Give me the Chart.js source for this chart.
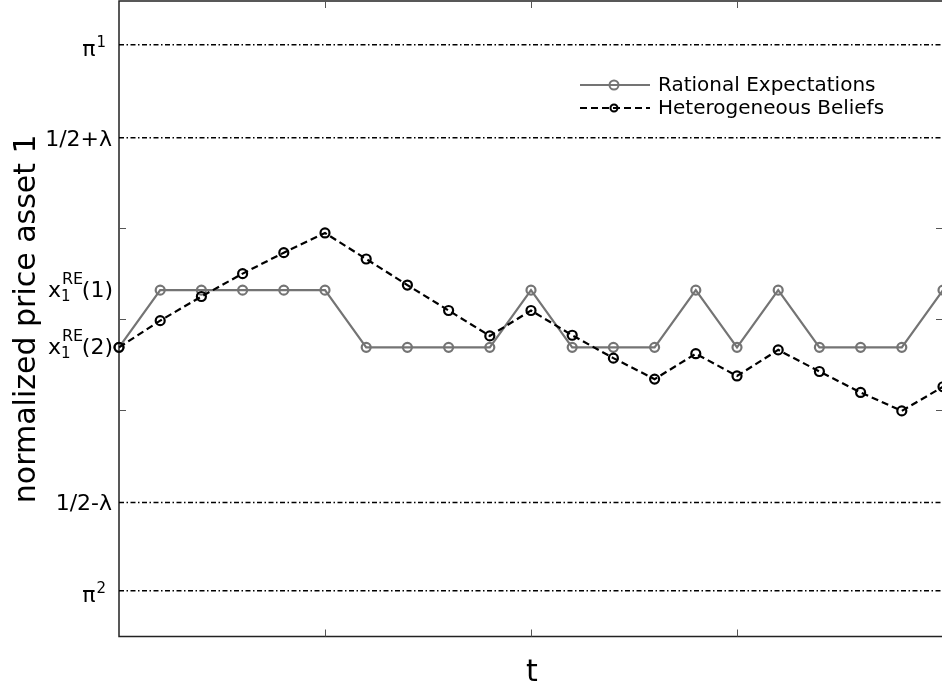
<!DOCTYPE html>
<html lang="en">
<head>
    <meta charset="UTF-8">
    <title>normalized price asset 1</title>
    <style>
    body {
        margin: 0;
        background: #fff;
        overflow: hidden;
    }
    .chart-box {
        position: relative;
        width: 946px;
        height: 692px;
    }
    </style>
</head>
<body>
    <div class="chart-box"><canvas id="priceChart"></canvas></div>

    <script src="https://cdn.jsdelivr.net/npm/chart.js"></script>
    <script>
// time steps
const periods = [0, 1, 2, 3, 4, 5, 6, 7, 8, 9, 10, 11, 12, 13, 14, 15, 16, 17, 18, 19, 20];

// normalized price of asset 1
const rationalExp = [0.455, 0.545, 0.545, 0.545, 0.545, 0.545, 0.455, 0.455, 0.455, 0.455, 0.545,
                     0.455, 0.455, 0.455, 0.545, 0.455, 0.545, 0.455, 0.455, 0.455, 0.545];
const heteroBeliefs = [0.455, 0.497, 0.535, 0.571, 0.604, 0.635, 0.594, 0.553, 0.513, 0.473, 0.513,
                       0.474, 0.438, 0.405, 0.445, 0.410, 0.451, 0.417, 0.384, 0.355, 0.393];

// dash-dot reference levels: pi1, 1/2+lambda, 1/2-lambda, pi2
const refLevels = [0.931, 0.785, 0.211, 0.072];

// labelled y ticks
const yTickValues = [0.931, 0.785, 0.545, 0.455, 0.211, 0.072];
const yTickLabels = [
    { main: 'π', sup: '1' },
    { main: '1/2+λ' },
    { main: 'x', sup: 'RE', sub: '1', tail: '(1)' },
    { main: 'x', sup: 'RE', sub: '1', tail: '(2)' },
    { main: '1/2-λ' },
    { main: 'π', sup: '2' }
];
// plain tick marks
const yMarkTicks = [0.357, 0.5, 0.643];
const xMarkTicks = [5, 10, 15];

const FONT = '"DejaVu Sans", sans-serif';
const GRAY = '#747474';

function pairs(vals) {
    return periods.map((t, i) => ({ x: t, y: vals[i] }));
}

const refSets = refLevels.map(v => ({
    data: [{ x: periods[0], y: v }, { x: periods[periods.length - 1], y: v }],
    borderColor: '#000',
    borderWidth: 1.5,
    borderDash: [5, 2.5, 1.5, 2.5],
    pointRadius: 0,
    order: 5
}));

// frame, inward ticks, tick labels, axis titles and legend
const decor = {
    id: 'decor',
    beforeDatasetsDraw(chart) {
        const { ctx, chartArea: a, scales } = chart;
        ctx.save();
        ctx.strokeStyle = '#222';
        ctx.lineWidth = 1.5;
        ctx.strokeRect(a.left, a.top, a.right - a.left, a.bottom - a.top);
        ctx.lineWidth = 1;
        ctx.strokeStyle = '#555';
        ctx.beginPath();
        yMarkTicks.forEach(v => {
            const y = Math.round(scales.y.getPixelForValue(v)) + 0.5;
            ctx.moveTo(a.left, y); ctx.lineTo(a.left + 7, y);
            ctx.moveTo(a.right, y); ctx.lineTo(a.right - 7, y);
        });
        xMarkTicks.forEach(v => {
            const x = Math.round(scales.x.getPixelForValue(v)) + 0.5;
            ctx.moveTo(x, a.bottom); ctx.lineTo(x, a.bottom - 7);
            ctx.moveTo(x, a.top); ctx.lineTo(x, a.top + 7);
        });
        ctx.stroke();
        ctx.restore();
    },
    afterDraw(chart) {
        const { ctx, chartArea: a, scales } = chart;
        ctx.save();
        ctx.fillStyle = '#000';
        ctx.textBaseline = 'alphabetic';
        ctx.textAlign = 'left';

        yTickLabels.forEach((lab, i) => {
            const y = scales.y.getPixelForValue(yTickValues[i]);
            ctx.font = '22px ' + FONT;
            const wMain = ctx.measureText(lab.main).width;
            const wTail = lab.tail ? ctx.measureText(lab.tail).width : 0;
            ctx.font = '15px ' + FONT;
            const wSup = lab.sup ? ctx.measureText(lab.sup).width : 0;
            const wSub = lab.sub ? ctx.measureText(lab.sub).width : 0;
            const wScript = Math.max(wSup, wSub);
            let gap = lab.main === 'π' ? 14 : 7;
            let x = a.left - gap - (wMain + wScript + wTail);
            let base = y + 8;
            if (lab.main === 'π') base = y + 11;
            if (lab.tail) base = y + 7;
            ctx.font = '22px ' + FONT;
            ctx.fillText(lab.main, x, base);
            x += wMain;
            ctx.font = lab.tail ? '16px ' + FONT : '15px ' + FONT;
            if (lab.sup) ctx.fillText(lab.sup, x + 1, lab.tail ? y - 6 : y + 2);
            ctx.font = '15px ' + FONT;
            if (lab.sub) ctx.fillText(lab.sub, x, y + 11);
            x += wScript + 1;
            if (lab.tail) {
                ctx.font = '22px ' + FONT;
                ctx.fillText(lab.tail, x, base);
            }
        });

        // axis titles
        ctx.font = '30px ' + FONT;
        ctx.textAlign = 'center';
        ctx.textBaseline = 'middle';
        ctx.fillText('t', 532, 673);
        ctx.translate(27, (a.top + a.bottom) / 2);
        ctx.rotate(-Math.PI / 2);
        ctx.fillText('normalized price asset 1', 0, 0);
        ctx.restore();

        // legend
        ctx.save();
        const rows = [
            { ds: chart.data.datasets[1], y: 85, r: 4.5 },
            { ds: chart.data.datasets[0], y: 108, r: 3.5 }
        ];
        rows.forEach(r => {
            ctx.strokeStyle = r.ds.borderColor;
            ctx.lineWidth = 2;
            ctx.setLineDash(r.ds.borderDash || []);
            ctx.beginPath();
            ctx.moveTo(580, r.y); ctx.lineTo(650, r.y);
            ctx.stroke();
            ctx.setLineDash([]);
            ctx.beginPath();
            ctx.arc(614, r.y, r.r, 0, Math.PI * 2);
            ctx.stroke();
            ctx.fillStyle = '#000';
            ctx.font = '20px ' + FONT;
            ctx.textBaseline = 'middle';
            ctx.fillText(r.ds.label, 658, r.y + 1);
        });
        ctx.restore();
    }
};

const priceCtx = document.getElementById('priceChart').getContext('2d');
const priceChart = new Chart(priceCtx, {
    type: 'line',
    data: {
        datasets: [{
            label: 'Heterogeneous Beliefs',
            data: pairs(heteroBeliefs),
            borderColor: '#000',
            borderWidth: 2.2,
            borderDash: [7, 4],
            pointRadius: 4.5,
            pointBorderWidth: 2.2,
            pointBackgroundColor: 'rgba(0,0,0,0)',
            pointBorderColor: '#000',
            clip: false,
            order: 0
        }, {
            label: 'Rational Expectations',
            data: pairs(rationalExp),
            borderColor: GRAY,
            borderWidth: 2.2,
            pointRadius: 4.5,
            pointBorderWidth: 2.2,
            pointBackgroundColor: 'rgba(0,0,0,0)',
            pointBorderColor: GRAY,
            clip: false,
            order: 1
        }, ...refSets]
    },
    options: {
        responsive: true,
        maintainAspectRatio: false,
        animation: false,
        layout: {
            autoPadding: false,
            padding: { left: 119, top: 1, right: 3, bottom: 55.5 }
        },
        plugins: {
            legend: { display: false },
            tooltip: { enabled: false }
        },
        scales: {
            x: { type: 'linear', min: 0, max: 20, display: false },
            y: { type: 'linear', min: 0, max: 1, display: false }
        }
    },
    plugins: [decor]
});
    </script>
</body>
</html>
